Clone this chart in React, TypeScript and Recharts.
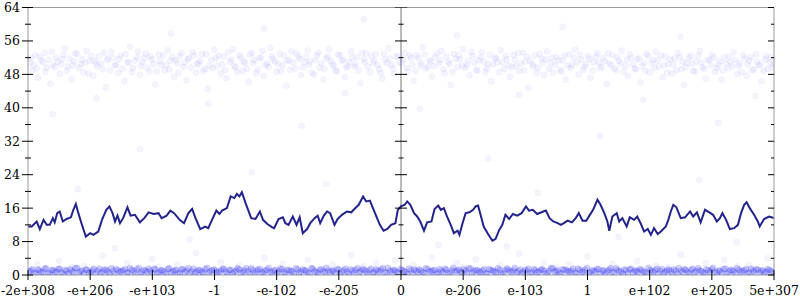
import React from "react";
import {
  ComposedChart,
  Line,
  Scatter,
  XAxis,
  YAxis,
  ReferenceLine,
} from "recharts";

const X_TICKS = [-6, -5, -4, -3, -2, -1, 0, 1, 2, 3, 4, 5, 6];
const X_LABELS = [
  "-2e+308", "-e+206", "-e+103", "-1", "-e-102", "-e-205", "0",
  "e-206", "e-103", "1", "e+102", "e+205", "5e+307",
];
const Y_TICKS = [0, 4, 8, 12, 16, 20, 24, 28, 32, 36, 40, 44, 48, 52, 56, 60, 64];

// running line [x, y]
const LINE_PTS = [
  [-6.0, 11.6], [-5.94, 11.6], [-5.86, 12.8], [-5.81, 11.0], [-5.75, 13.2], [-5.7, 12.0],
  [-5.65, 12.0], [-5.6, 13.6], [-5.57, 12.6], [-5.53, 14.8], [-5.49, 15.2], [-5.44, 12.8],
  [-5.38, 13.4], [-5.31, 13.8], [-5.27, 15.6], [-5.23, 17.0], [-5.19, 14.8], [-5.14, 12.4],
  [-5.07, 9.2], [-5.0, 10.0], [-4.95, 9.6], [-4.87, 10.4], [-4.81, 13.2], [-4.74, 15.6],
  [-4.69, 16.4], [-4.64, 14.8], [-4.6, 12.8], [-4.56, 14.2], [-4.52, 12.4], [-4.47, 13.6],
  [-4.4, 16.2], [-4.35, 14.2], [-4.28, 14.4], [-4.2, 12.6], [-4.13, 13.6], [-4.06, 15.0],
  [-3.98, 14.6], [-3.9, 14.8], [-3.85, 13.6], [-3.77, 14.2], [-3.71, 15.4], [-3.65, 14.8],
  [-3.56, 13.2], [-3.49, 12.4], [-3.42, 14.8], [-3.36, 15.8], [-3.31, 13.8], [-3.23, 11.0],
  [-3.15, 11.6], [-3.1, 11.2], [-3.04, 13.2], [-2.97, 15.4], [-2.92, 14.6], [-2.88, 15.4],
  [-2.8, 16.0], [-2.74, 18.8], [-2.68, 18.4], [-2.64, 19.4], [-2.6, 18.8], [-2.56, 19.8],
  [-2.5, 17.2], [-2.47, 16.0], [-2.41, 13.6], [-2.34, 13.4], [-2.27, 15.2], [-2.22, 13.2],
  [-2.15, 12.2], [-2.07, 11.4], [-2.04, 11.2], [-1.97, 13.4], [-1.9, 13.8], [-1.86, 12.4],
  [-1.81, 12.0], [-1.74, 14.0], [-1.68, 12.0], [-1.63, 13.8], [-1.58, 10.0], [-1.51, 11.0],
  [-1.46, 12.4], [-1.39, 13.6], [-1.34, 14.2], [-1.3, 12.4], [-1.24, 14.2], [-1.19, 15.2],
  [-1.14, 14.8], [-1.07, 12.0], [-1.02, 13.4], [-0.95, 14.4], [-0.87, 15.2], [-0.8, 15.0],
  [-0.75, 15.8], [-0.68, 16.8], [-0.61, 18.8], [-0.56, 17.6], [-0.5, 17.8], [-0.44, 15.6],
  [-0.38, 13.4], [-0.34, 12.0], [-0.28, 10.6], [-0.22, 11.0], [-0.16, 12.0], [-0.09, 12.4],
  [-0.05, 15.6], [0.0, 16.4], [0.06, 16.8], [0.1, 17.6], [0.15, 16.8], [0.21, 14.8],
  [0.26, 14.0], [0.31, 12.8], [0.37, 10.6], [0.42, 12.6], [0.49, 12.8], [0.54, 15.8],
  [0.6, 16.6], [0.64, 15.6], [0.69, 16.0], [0.74, 14.0], [0.8, 12.0], [0.85, 10.0],
  [0.91, 10.6], [0.94, 9.6], [0.99, 12.4], [1.04, 14.8], [1.1, 15.0], [1.16, 15.6],
  [1.2, 16.4], [1.24, 16.6], [1.28, 14.4], [1.33, 11.6], [1.4, 9.8], [1.47, 8.2],
  [1.52, 8.6], [1.58, 10.8], [1.63, 12.0], [1.68, 14.4], [1.74, 13.4], [1.8, 14.6],
  [1.87, 14.2], [1.94, 14.8], [2.01, 16.4], [2.06, 15.4], [2.12, 15.6], [2.19, 14.6],
  [2.26, 15.0], [2.33, 15.4], [2.39, 13.6], [2.45, 12.8], [2.52, 12.4], [2.57, 12.0],
  [2.62, 12.4], [2.68, 13.0], [2.75, 12.6], [2.81, 13.6], [2.86, 14.8], [2.92, 13.0],
  [2.98, 13.0], [3.03, 14.2], [3.09, 15.6], [3.16, 18.0], [3.21, 16.8], [3.27, 14.8],
  [3.32, 12.8], [3.35, 10.6], [3.4, 14.0], [3.47, 14.8], [3.51, 12.8], [3.56, 13.6],
  [3.63, 11.6], [3.68, 13.8], [3.75, 13.2], [3.8, 14.0], [3.86, 12.2], [3.91, 10.4],
  [3.97, 11.0], [4.02, 9.6], [4.07, 11.2], [4.13, 9.8], [4.18, 10.4], [4.26, 11.6],
  [4.3, 13.2], [4.34, 15.2], [4.38, 16.8], [4.43, 16.2], [4.5, 13.6], [4.57, 13.8],
  [4.65, 15.2], [4.7, 14.0], [4.76, 15.0], [4.82, 12.6], [4.89, 15.6], [4.96, 15.0],
  [5.02, 14.4], [5.08, 12.8], [5.13, 13.6], [5.17, 14.8], [5.23, 13.2], [5.29, 11.0],
  [5.36, 11.2], [5.42, 12.0], [5.47, 14.8], [5.52, 16.8], [5.56, 17.4], [5.61, 16.0],
  [5.68, 14.4], [5.74, 12.8], [5.77, 11.6], [5.84, 13.4], [5.92, 14.0], [6.0, 13.6],
];

// faint cloud near 50, wide spread
const UPPER_DOTS = [
  [-5.97, 50.8], [-5.93, 48.9], [-5.88, 52.6], [-5.84, 47.2], [-5.79, 51.4], [-5.73, 53.1], [-5.7, 49.6],
  [-5.64, 45.8], [-5.6, 50.2], [-5.55, 52.0], [-5.49, 48.1], [-5.45, 51.7], [-5.41, 54.2], [-5.36, 49.9],
  [-5.3, 46.9], [-5.26, 51.1], [-5.21, 52.9], [-5.15, 50.4], [-5.11, 48.5], [-5.06, 53.6], [-5.01, 51.3],
  [-4.95, 47.7], [-4.91, 50.6], [-4.86, 52.3], [-4.8, 49.2], [-4.75, 44.9], [-4.71, 51.8], [-4.66, 53.4],
  [-4.6, 50.1], [-4.55, 48.3], [-4.51, 52.5], [-4.45, 46.4], [-4.4, 51.0], [-4.36, 54.6], [-4.31, 49.5],
  [-4.25, 52.1], [-4.2, 47.9], [-4.16, 50.9], [-4.1, 53.0], [-4.05, 48.7], [-4.01, 51.6], [-3.95, 45.6],
  [-3.9, 52.7], [-3.86, 50.3], [-3.8, 49.0], [-3.75, 53.8], [-3.71, 51.2], [-3.65, 47.4], [-3.6, 50.7],
  [-3.56, 52.4], [-3.5, 49.8], [-3.45, 46.6], [-3.41, 51.9], [-3.35, 53.3], [-3.3, 48.4], [-3.26, 50.5],
  [-3.2, 52.8], [-3.15, 49.3], [-3.11, 44.5], [-3.05, 51.5], [-3.0, 53.9], [-2.96, 50.0], [-2.9, 48.2],
  [-2.85, 52.2], [-2.81, 47.1], [-2.75, 51.0], [-2.7, 54.0], [-2.66, 49.7], [-2.6, 52.6], [-2.55, 48.8],
  [-2.51, 50.8], [-2.45, 46.2], [-2.4, 53.2], [-2.36, 51.4], [-2.3, 49.1], [-2.25, 52.0], [-2.21, 47.6],
  [-2.15, 50.6], [-2.1, 54.4], [-2.06, 51.7], [-2.0, 48.6], [-1.95, 52.9], [-1.91, 50.2], [-1.85, 45.3],
  [-1.8, 51.3], [-1.76, 53.5], [-1.7, 49.4], [-1.65, 52.3], [-1.61, 47.8], [-1.55, 50.9], [-1.5, 53.7],
  [-1.46, 51.1], [-1.4, 48.0], [-1.35, 52.5], [-1.31, 49.6], [-1.25, 46.8], [-1.2, 51.8], [-1.16, 54.1],
  [-1.1, 50.4], [-1.05, 48.9], [-1.01, 52.7], [-0.95, 51.2], [-0.9, 47.3], [-0.86, 50.0], [-0.8, 53.4],
  [-0.75, 49.9], [-0.71, 52.1], [-0.65, 45.9], [-0.6, 51.6], [-0.56, 53.0], [-0.5, 48.5], [-0.45, 50.7],
  [-0.41, 52.8], [-0.35, 49.2], [-0.3, 47.0], [-0.26, 51.5], [-0.2, 54.3], [-0.15, 50.3], [-0.11, 48.1],
  [-0.05, 52.4], [0.02, 50.6], [0.06, 53.1], [0.11, 48.7], [0.16, 51.9], [0.2, 46.5], [0.25, 52.6],
  [0.31, 50.1], [0.35, 54.5], [0.4, 49.4], [0.46, 51.3], [0.5, 47.5], [0.55, 52.2], [0.61, 50.8],
  [0.65, 53.6], [0.7, 48.3], [0.76, 51.0], [0.8, 45.4], [0.85, 52.9], [0.91, 49.7], [0.95, 51.7],
  [1.0, 54.0], [1.06, 50.2], [1.1, 47.8], [1.15, 52.4], [1.21, 49.0], [1.25, 51.4], [1.3, 53.3],
  [1.36, 48.6], [1.4, 50.5], [1.45, 46.3], [1.51, 52.0], [1.55, 50.9], [1.6, 53.8], [1.66, 49.3],
  [1.7, 51.6], [1.75, 47.4], [1.81, 52.7], [1.85, 50.0], [1.9, 48.8], [1.96, 53.2], [2.0, 51.1],
  [2.05, 44.8], [2.11, 50.4], [2.15, 52.5], [2.2, 49.6], [2.26, 51.8], [2.3, 47.9], [2.35, 53.5],
  [2.41, 50.7], [2.45, 48.4], [2.5, 52.1], [2.56, 49.1], [2.6, 51.3], [2.65, 46.7], [2.71, 52.8],
  [2.75, 50.3], [2.8, 53.9], [2.86, 48.0], [2.9, 51.5], [2.95, 49.8], [3.01, 52.3], [3.05, 47.2],
  [3.1, 50.9], [3.16, 53.0], [3.2, 49.5], [3.25, 51.9], [3.31, 45.7], [3.35, 50.6], [3.4, 52.6],
  [3.46, 48.9], [3.5, 51.2], [3.55, 53.7], [3.61, 50.0], [3.65, 47.6], [3.7, 52.0], [3.76, 49.4],
  [3.8, 51.7], [3.85, 46.1], [3.91, 50.8], [3.95, 52.9], [4.0, 48.5], [4.06, 51.4], [4.1, 53.4],
  [4.15, 49.9], [4.21, 47.3], [4.25, 52.2], [4.3, 50.5], [4.36, 48.2], [4.4, 51.8], [4.45, 53.1],
  [4.51, 49.2], [4.55, 45.5], [4.6, 50.7], [4.66, 52.4], [4.7, 48.8], [4.75, 51.1], [4.81, 53.6],
  [4.85, 49.7], [4.9, 47.0], [4.96, 51.5], [5.0, 52.7], [5.05, 48.6], [5.11, 50.3], [5.15, 46.8],
  [5.2, 52.1], [5.26, 49.5], [5.3, 51.0], [5.35, 53.3], [5.41, 48.1], [5.45, 50.6], [5.5, 52.5],
  [5.56, 47.7], [5.6, 51.3], [5.65, 49.0], [5.71, 52.8], [5.75, 50.2], [5.8, 46.4], [5.86, 51.6],
  [5.9, 49.3], [5.95, 52.0], [5.99, 50.5],
];

// faint cloud near 50, dense core
const UPPER_CORE = [
  [-5.95, 51.9], [-5.9, 50.3], [-5.86, 49.4], [-5.81, 52.2], [-5.76, 50.9], [-5.72, 48.6], [-5.67, 51.5],
  [-5.62, 53.4], [-5.57, 49.8], [-5.52, 51.0], [-5.47, 50.4], [-5.43, 52.7], [-5.38, 48.8], [-5.33, 51.8],
  [-5.28, 50.1], [-5.24, 53.0], [-5.18, 49.5], [-5.13, 51.6], [-5.08, 50.7], [-5.03, 48.2], [-4.98, 52.4],
  [-4.93, 51.2], [-4.88, 49.9], [-4.83, 50.6], [-4.78, 53.2], [-4.73, 51.4], [-4.68, 48.9], [-4.63, 52.0],
  [-4.58, 50.3], [-4.53, 51.7], [-4.48, 49.3], [-4.43, 52.9], [-4.38, 50.8], [-4.33, 48.5], [-4.28, 51.3],
  [-4.23, 53.5], [-4.18, 50.0], [-4.13, 51.9], [-4.08, 49.6], [-4.03, 52.3], [-3.98, 50.5], [-3.93, 48.7],
  [-3.88, 51.1], [-3.83, 52.6], [-3.78, 50.2], [-3.73, 49.2], [-3.68, 52.1], [-3.63, 51.4], [-3.58, 48.4],
  [-3.53, 53.1], [-3.48, 50.9], [-3.43, 51.6], [-3.38, 49.7], [-3.33, 52.5], [-3.28, 50.6], [-3.23, 51.2],
  [-3.18, 48.9], [-3.13, 52.8], [-3.08, 50.1], [-3.03, 49.5], [-2.98, 51.8], [-2.93, 52.4], [-2.88, 50.4],
  [-2.83, 49.0], [-2.78, 53.3], [-2.73, 51.5], [-2.68, 50.0], [-2.63, 48.6], [-2.58, 52.0], [-2.53, 51.1],
  [-2.48, 49.4], [-2.43, 52.7], [-2.38, 50.7], [-2.33, 48.3], [-2.28, 51.9], [-2.23, 53.6], [-2.18, 50.2],
  [-2.13, 49.8], [-2.08, 52.2], [-2.03, 51.0], [-1.98, 50.5], [-1.93, 48.8], [-1.88, 52.5], [-1.83, 51.3],
  [-1.78, 49.1], [-1.73, 50.8], [-1.68, 53.0], [-1.63, 51.7], [-1.58, 49.7], [-1.53, 52.1], [-1.48, 50.3],
  [-1.43, 48.5], [-1.38, 51.4], [-1.33, 53.2], [-1.28, 50.6], [-1.23, 49.3], [-1.18, 52.3], [-1.13, 51.2],
  [-1.08, 50.0], [-1.03, 48.7], [-0.98, 52.6], [-0.93, 51.5], [-0.88, 49.6], [-0.83, 50.9], [-0.78, 52.0],
  [-0.73, 50.4], [-0.68, 48.9], [-0.63, 53.1], [-0.58, 51.0], [-0.53, 49.9], [-0.48, 52.4], [-0.43, 51.3],
  [-0.38, 50.2], [-0.33, 48.4], [-0.28, 52.9], [-0.23, 50.7], [-0.18, 51.8], [-0.13, 49.4], [-0.08, 52.2],
  [-0.03, 50.8], [0.04, 51.6], [0.09, 49.5], [0.14, 52.5], [0.18, 50.3], [0.23, 48.8], [0.28, 51.9],
  [0.33, 50.6], [0.38, 52.8], [0.43, 49.8], [0.48, 51.1], [0.53, 50.0], [0.58, 53.0], [0.63, 51.4],
  [0.68, 49.2], [0.73, 52.3], [0.78, 50.5], [0.83, 48.6], [0.88, 51.7], [0.93, 52.6], [0.98, 50.2],
  [1.03, 49.6], [1.08, 51.3], [1.13, 53.4], [1.18, 50.8], [1.23, 48.9], [1.28, 52.1], [1.33, 51.0],
  [1.38, 49.4], [1.43, 52.7], [1.48, 50.4], [1.53, 51.8], [1.58, 48.5], [1.63, 50.9], [1.68, 52.4],
  [1.73, 50.1], [1.78, 49.7], [1.83, 51.5], [1.88, 53.1], [1.93, 50.6], [1.98, 49.0], [2.03, 52.2],
  [2.08, 51.2], [2.13, 49.9], [2.18, 48.4], [2.23, 52.9], [2.28, 50.7], [2.33, 51.6], [2.38, 49.3],
  [2.43, 52.0], [2.48, 50.3], [2.53, 51.4], [2.58, 48.7], [2.63, 52.5], [2.68, 50.0], [2.73, 49.5],
  [2.78, 51.9], [2.83, 50.8], [2.88, 52.7], [2.93, 49.1], [2.98, 50.5], [3.03, 51.7], [3.08, 48.9],
  [3.13, 52.3], [3.18, 50.9], [3.23, 49.8], [3.28, 51.2], [3.33, 53.0], [3.38, 50.2], [3.43, 49.4],
  [3.48, 52.1], [3.53, 50.6], [3.58, 48.6], [3.63, 51.5], [3.68, 52.8], [3.73, 50.4], [3.78, 49.2],
  [3.83, 51.8], [3.88, 50.0], [3.93, 48.8], [3.98, 52.4], [4.03, 50.7], [4.08, 49.6], [4.13, 51.3],
  [4.18, 52.6], [4.23, 50.1], [4.28, 48.4], [4.33, 51.6], [4.38, 50.3], [4.43, 49.0], [4.48, 52.2],
  [4.53, 51.0], [4.58, 49.7], [4.63, 51.9], [4.68, 50.5], [4.73, 48.7], [4.78, 52.5], [4.83, 50.8],
  [4.88, 49.3], [4.93, 51.4], [4.98, 50.2], [5.03, 52.0], [5.08, 49.5], [5.13, 51.1], [5.18, 48.9],
  [5.23, 50.6], [5.28, 52.3], [5.33, 49.9], [5.38, 51.5], [5.43, 50.0], [5.48, 48.5], [5.53, 51.8],
  [5.58, 50.4], [5.63, 52.1], [5.68, 49.2], [5.73, 51.0], [5.78, 50.3], [5.83, 48.8], [5.88, 52.4],
  [5.93, 50.7], [5.98, 49.6],
];

// scattered strays
const STRAY_DOTS = [
  [-5.6, 38.5], [-4.9, 42.3], [-4.2, 30.1], [-3.7, 57.8], [-3.1, 41.0], [-2.4, 24.6], [-2.2, 58.9],
  [-1.6, 35.7], [-0.9, 43.5], [-0.6, 61.2], [0.3, 39.8], [0.9, 57.3], [1.4, 27.9], [1.9, 43.1],
  [2.6, 59.4], [3.2, 33.2], [3.9, 41.9], [4.5, 57.0], [5.1, 36.4], [5.7, 42.8], [-5.2, 20.5],
  [-1.2, 21.8], [2.2, 19.6], [4.8, 22.7], [-3.4, 8.5], [0.6, 7.2], [3.5, 9.1], [-4.6, 6.4],
  [1.7, 6.8], [5.4, 7.9],
  [-5.85, 2.6], [-5.5, 3.4], [-5.1, 2.2], [-4.8, 4.6], [-4.4, 2.9], [-4.0, 3.8], [-3.6, 2.4],
  [-3.3, 5.3], [-2.9, 3.1], [-2.6, 2.3], [-2.2, 4.1], [-1.9, 2.7], [-1.5, 3.6], [-1.1, 2.5],
  [-0.8, 4.8], [-0.4, 2.8], [-0.1, 3.5], [0.2, 2.4], [0.5, 4.2], [0.9, 2.9], [1.2, 3.7],
  [1.6, 2.3], [1.9, 5.1], [2.3, 3.0], [2.7, 2.5], [3.0, 4.4], [3.4, 2.7], [3.8, 3.3],
  [4.1, 2.2], [4.5, 4.9], [4.9, 2.8], [5.2, 3.6], [5.6, 2.4], [5.9, 4.0], [-5.3, 1.9],
  [-3.9, 2.0], [-2.4, 1.9], [-0.6, 2.1], [1.0, 1.9], [2.5, 2.0], [4.3, 1.9], [5.4, 2.1],
];

// dense strip at the floor
const BOTTOM_DOTS = [
  [-5.98, 0.9], [-5.93, 1.4], [-5.87, 0.4], [-5.82, 1.1], [-5.76, 0.7], [-5.71, 1.6], [-5.65, 0.5],
  [-5.6, 1.2], [-5.54, 0.8], [-5.49, 1.5], [-5.43, 0.3], [-5.38, 1.0], [-5.32, 1.3], [-5.27, 0.6],
  [-5.21, 1.7], [-5.16, 0.9], [-5.1, 0.4], [-5.05, 1.2], [-4.99, 0.7], [-4.94, 1.5], [-4.88, 1.0],
  [-4.83, 0.5], [-4.77, 1.3], [-4.72, 0.8], [-4.66, 1.6], [-4.61, 0.3], [-4.55, 1.1], [-4.5, 0.9],
  [-4.44, 1.4], [-4.39, 0.6], [-4.33, 1.2], [-4.28, 0.4], [-4.22, 1.7], [-4.17, 0.8], [-4.11, 1.0],
  [-4.06, 1.5], [-4.0, 0.5], [-3.95, 1.3], [-3.89, 0.7], [-3.84, 1.1], [-3.78, 0.3], [-3.73, 1.6],
  [-3.67, 0.9], [-3.62, 1.2], [-3.56, 0.6], [-3.51, 1.4], [-3.45, 1.0], [-3.4, 0.4], [-3.34, 1.5],
  [-3.29, 0.8], [-3.23, 1.1], [-3.18, 0.5], [-3.12, 1.7], [-3.07, 0.9], [-3.01, 1.3], [-2.96, 0.6],
  [-2.9, 1.0], [-2.85, 1.4], [-2.79, 0.3], [-2.74, 1.2], [-2.68, 0.8], [-2.63, 1.6], [-2.57, 0.5],
  [-2.52, 1.1], [-2.46, 0.9], [-2.41, 1.5], [-2.35, 0.4], [-2.3, 1.3], [-2.24, 0.7], [-2.19, 1.0],
  [-2.13, 1.7], [-2.08, 0.6], [-2.02, 1.2], [-1.97, 0.9], [-1.91, 1.4], [-1.86, 0.3], [-1.8, 1.1],
  [-1.75, 0.8], [-1.69, 1.6], [-1.64, 0.5], [-1.58, 1.3], [-1.53, 1.0], [-1.47, 0.4], [-1.42, 1.5],
  [-1.36, 0.7], [-1.31, 1.2], [-1.25, 0.9], [-1.2, 1.7], [-1.14, 0.6], [-1.09, 1.0], [-1.03, 1.4],
  [-0.98, 0.3], [-0.92, 1.1], [-0.87, 0.8], [-0.81, 1.3], [-0.76, 0.5], [-0.7, 1.6], [-0.65, 0.9],
  [-0.59, 1.2], [-0.54, 0.4], [-0.48, 1.5], [-0.43, 0.7], [-0.37, 1.0], [-0.32, 1.3], [-0.26, 0.6],
  [-0.21, 1.7], [-0.15, 0.8], [-0.1, 1.1], [-0.04, 0.5], [0.02, 1.2], [0.07, 0.8], [0.13, 1.5],
  [0.18, 0.4], [0.24, 1.0], [0.29, 1.3], [0.35, 0.6], [0.4, 1.6], [0.46, 0.9], [0.51, 1.1],
  [0.57, 0.3], [0.62, 1.4], [0.68, 0.7], [0.73, 1.2], [0.79, 0.5], [0.84, 1.7], [0.9, 1.0],
  [0.95, 0.8], [1.01, 1.3], [1.06, 0.4], [1.12, 1.5], [1.17, 0.9], [1.23, 1.1], [1.28, 0.6],
  [1.34, 1.4], [1.39, 0.3], [1.45, 1.2], [1.5, 0.8], [1.56, 1.6], [1.61, 0.5], [1.67, 1.0],
  [1.72, 1.3], [1.78, 0.7], [1.83, 1.7], [1.89, 0.9], [1.94, 0.4], [2.0, 1.2], [2.05, 1.5],
  [2.11, 0.6], [2.16, 1.1], [2.22, 0.8], [2.27, 1.4], [2.33, 0.3], [2.38, 1.0], [2.44, 1.6],
  [2.49, 0.9], [2.55, 0.5], [2.6, 1.3], [2.66, 1.1], [2.71, 0.7], [2.77, 1.5], [2.82, 0.4],
  [2.88, 1.2], [2.93, 0.8], [2.99, 1.7], [3.04, 0.6], [3.1, 1.0], [3.15, 1.4], [3.21, 0.3],
  [3.26, 1.1], [3.32, 0.9], [3.37, 1.6], [3.43, 0.5], [3.48, 1.2], [3.54, 0.8], [3.59, 1.3],
  [3.65, 0.4], [3.7, 1.5], [3.76, 1.0], [3.81, 0.7], [3.87, 1.2], [3.92, 0.6], [3.98, 1.7],
  [4.03, 0.9], [4.09, 1.1], [4.14, 0.3], [4.2, 1.4], [4.25, 0.8], [4.31, 1.3], [4.36, 0.5],
  [4.42, 1.0], [4.47, 1.6], [4.53, 0.7], [4.58, 1.2], [4.64, 0.4], [4.69, 1.5], [4.75, 0.9],
  [4.8, 1.1], [4.86, 0.6], [4.91, 1.3], [4.97, 0.8], [5.02, 1.7], [5.08, 0.5], [5.13, 1.0],
  [5.19, 1.4], [5.24, 0.3], [5.3, 1.2], [5.35, 0.9], [5.41, 1.6], [5.46, 0.7], [5.52, 1.1],
  [5.57, 0.4], [5.63, 1.5], [5.68, 0.8], [5.74, 1.3], [5.79, 1.0], [5.85, 0.6], [5.9, 1.4],
  [5.96, 0.9],
];

// second pass of the floor strip, between the first
const BOTTOM_CORE = [
  [-5.95, 1.0], [-5.9, 0.5], [-5.84, 1.3], [-5.79, 0.7], [-5.73, 1.5], [-5.68, 0.3], [-5.62, 1.1],
  [-5.57, 0.8], [-5.51, 1.4], [-5.46, 0.6], [-5.4, 1.2], [-5.35, 0.4], [-5.29, 0.9], [-5.24, 1.6],
  [-5.18, 0.5], [-5.13, 1.0], [-5.07, 1.3], [-5.02, 0.6], [-4.96, 1.1], [-4.91, 0.3], [-4.85, 1.5],
  [-4.8, 0.8], [-4.74, 1.2], [-4.69, 0.4], [-4.63, 1.0], [-4.58, 1.4], [-4.52, 0.7], [-4.47, 1.1],
  [-4.41, 0.5], [-4.36, 1.6], [-4.3, 0.9], [-4.25, 1.3], [-4.19, 0.3], [-4.14, 1.2], [-4.08, 0.7],
  [-4.03, 1.0], [-3.97, 1.5], [-3.92, 0.4], [-3.86, 1.1], [-3.81, 0.8], [-3.75, 1.4], [-3.7, 0.6],
  [-3.64, 1.0], [-3.59, 0.3], [-3.53, 1.3], [-3.48, 0.7], [-3.42, 1.6], [-3.37, 0.9], [-3.31, 0.5],
  [-3.26, 1.2], [-3.2, 0.8], [-3.15, 1.4], [-3.09, 0.4], [-3.04, 1.1], [-2.98, 1.0], [-2.93, 0.6],
  [-2.87, 1.5], [-2.82, 0.8], [-2.76, 1.2], [-2.71, 0.4], [-2.65, 1.0], [-2.6, 1.3], [-2.54, 0.7],
  [-2.49, 1.6], [-2.43, 0.3], [-2.38, 1.1], [-2.32, 0.9], [-2.27, 1.4], [-2.21, 0.5], [-2.16, 1.2],
  [-2.1, 0.8], [-2.05, 1.0], [-1.99, 0.4], [-1.94, 1.5], [-1.88, 0.7], [-1.83, 1.2], [-1.77, 1.0],
  [-1.72, 0.3], [-1.66, 1.3], [-1.61, 0.8], [-1.55, 1.1], [-1.5, 0.6], [-1.44, 1.6], [-1.39, 0.9],
  [-1.33, 0.4], [-1.28, 1.4], [-1.22, 0.7], [-1.17, 1.1], [-1.11, 1.0], [-1.06, 0.5], [-1.0, 1.3],
  [-0.95, 0.8], [-0.89, 1.5], [-0.84, 0.3], [-0.78, 1.0], [-0.73, 1.2], [-0.67, 0.6], [-0.62, 1.4],
  [-0.56, 0.9], [-0.51, 1.1], [-0.45, 0.4], [-0.4, 1.3], [-0.34, 0.8], [-0.29, 1.6], [-0.23, 0.5],
  [-0.18, 1.0], [-0.12, 1.2], [-0.07, 0.7], [-0.01, 1.4], [0.05, 0.9], [0.1, 0.3], [0.16, 1.1],
  [0.21, 1.3], [0.27, 0.7], [0.32, 1.0], [0.38, 0.5], [0.43, 1.4], [0.49, 0.8], [0.54, 1.2],
  [0.6, 0.6], [0.65, 1.0], [0.71, 1.5], [0.76, 0.4], [0.82, 1.1], [0.87, 0.9], [0.93, 1.3],
  [0.98, 0.6], [1.04, 1.0], [1.09, 1.6], [1.15, 0.5], [1.2, 1.2], [1.26, 0.8], [1.31, 1.1],
  [1.37, 0.4], [1.42, 1.4], [1.48, 1.0], [1.53, 0.7], [1.59, 1.2], [1.64, 0.3], [1.7, 1.5],
  [1.75, 0.9], [1.81, 1.1], [1.86, 0.6], [1.92, 1.3], [1.97, 0.8], [2.03, 1.0], [2.08, 0.4],
  [2.14, 1.4], [2.19, 0.7], [2.25, 1.2], [2.3, 1.0], [2.36, 0.5], [2.41, 1.6], [2.47, 0.8],
  [2.52, 1.1], [2.58, 0.3], [2.63, 1.3], [2.69, 0.9], [2.74, 1.0], [2.8, 0.6], [2.85, 1.5],
  [2.91, 0.7], [2.96, 1.2], [3.02, 0.4], [3.07, 1.1], [3.13, 0.8], [3.18, 1.4], [3.24, 1.0],
  [3.29, 0.5], [3.35, 1.2], [3.4, 0.7], [3.46, 1.6], [3.51, 0.9], [3.57, 0.3], [3.62, 1.1],
  [3.68, 1.3], [3.73, 0.6], [3.79, 1.0], [3.84, 1.4], [3.9, 0.8], [3.95, 0.4], [4.01, 1.2],
  [4.06, 0.7], [4.12, 1.5], [4.17, 1.0], [4.23, 0.5], [4.28, 1.1], [4.34, 0.9], [4.39, 1.3],
  [4.45, 0.3], [4.5, 1.0], [4.56, 1.4], [4.61, 0.8], [4.67, 1.2], [4.72, 0.6], [4.78, 1.6],
  [4.83, 0.9], [4.89, 0.4], [4.94, 1.1], [5.0, 1.3], [5.05, 0.7], [5.11, 1.0], [5.16, 0.5],
  [5.22, 1.5], [5.27, 0.8], [5.33, 1.1], [5.38, 0.4], [5.44, 1.2], [5.49, 0.9], [5.55, 1.4],
  [5.6, 0.6], [5.66, 1.0], [5.71, 1.3], [5.77, 0.5], [5.82, 1.1], [5.88, 0.8], [5.93, 1.2],
  [5.99, 0.6],
];

const toRows = (pts: number[][]) => pts.map(([x, y]) => ({ x, y }));

const FONT = "'DejaVu Serif', serif";
const AXIS_GRAY = "#9a9a9a";
const DOT_BLUE = "#3c3cf5";

const XTick = (props: any) => {
  const { x, y, payload } = props;
  const label = X_LABELS[X_TICKS.indexOf(payload.value)];
  return (
    <g>
      <line x1={x} x2={x} y1={y - 5} y2={y + 5} stroke="#000" />
      <text x={x} y={y + 19.5} textAnchor="middle" style={{ fontFamily: FONT, fontSize: 12.5 }} fill="#000">
        {label}
      </text>
    </g>
  );
};

const LeftTick = (props: any) => {
  const { x, y, payload } = props;
  const major = payload.value % 8 === 0;
  return (
    <g>
      <line x1={major ? x - 6 : x - 3} x2={major ? x + 5 : x + 3} y1={y} y2={y} stroke="#000" />
      {major && (
        <text x={x - 8} y={y + 4.5} textAnchor="end" style={{ fontFamily: FONT, fontSize: 12.5 }} fill="#000">
          {payload.value}
        </text>
      )}
    </g>
  );
};

const RightTick = (props: any) => {
  const { x, y, payload } = props;
  const major = payload.value % 8 === 0;
  return <line x1={major ? x - 6 : x - 3} x2={x} y1={y} y2={y} stroke="#000" />;
};

const dot = (opacity: number) => (p: any) => (
  <circle
    cx={p.cx}
    cy={p.cy}
    r={3}
    fill={DOT_BLUE}
    fillOpacity={opacity}
    stroke={DOT_BLUE}
    strokeOpacity={opacity}
    strokeWidth={0.8}
  />
);

const centerTick = (p: any) => {
  const major = p.payload.y % 8 === 0;
  const d = major ? 6 : 2.5;
  return <line x1={p.cx - d} x2={p.cx + d} y1={p.cy} y2={p.cy} stroke="#000" />;
};

export default function App() {
  const centerTicks = Y_TICKS.map((y) => ({ x: 0, y }));
  return (
    <div style={{ position: "absolute", left: 0, top: 0, width: 800, height: 300, background: "#fff" }}>
      <ComposedChart width={800} height={300} margin={{ top: 7.5, right: 0, bottom: 0, left: 0 }}>
        <XAxis
          type="number"
          dataKey="x"
          domain={[-6, 6]}
          ticks={X_TICKS}
          interval={0}
          allowDataOverflow
          height={25}
          tickSize={0}
          tickMargin={0}
          tickLine={false}
          axisLine={{ stroke: AXIS_GRAY }}
          tick={<XTick />}
        />
        <YAxis
          yAxisId="left"
          type="number"
          dataKey="y"
          domain={[0, 64]}
          ticks={Y_TICKS}
          interval={0}
          allowDataOverflow
          width={28}
          tickSize={0}
          tickMargin={0}
          tickLine={false}
          axisLine={{ stroke: AXIS_GRAY }}
          tick={<LeftTick />}
        />
        <YAxis
          yAxisId="right"
          orientation="right"
          type="number"
          dataKey="y"
          domain={[0, 64]}
          ticks={Y_TICKS}
          interval={0}
          allowDataOverflow
          width={26}
          tickSize={0}
          tickMargin={0}
          tickLine={false}
          axisLine={{ stroke: AXIS_GRAY }}
          tick={<RightTick />}
        />
        <ReferenceLine yAxisId="left" y={64} stroke={AXIS_GRAY} />
        <ReferenceLine yAxisId="left" x={0} stroke="#777" />
        <Scatter yAxisId="left" data={toRows(UPPER_DOTS)} dataKey="y" shape={dot(0.06)} isAnimationActive={false} />
        <Scatter yAxisId="left" data={toRows(UPPER_CORE)} dataKey="y" shape={dot(0.06)} isAnimationActive={false} />
        <Scatter yAxisId="left" data={toRows(STRAY_DOTS)} dataKey="y" shape={dot(0.06)} isAnimationActive={false} />
        <Scatter yAxisId="right" data={toRows(BOTTOM_DOTS)} dataKey="y" shape={dot(0.22)} isAnimationActive={false} />
        <Scatter yAxisId="right" data={toRows(BOTTOM_CORE)} dataKey="y" shape={dot(0.22)} isAnimationActive={false} />
        <Scatter yAxisId="left" data={centerTicks} dataKey="y" shape={centerTick} isAnimationActive={false} />
        <Line
          yAxisId="left"
          data={toRows(LINE_PTS)}
          dataKey="y"
          type="linear"
          stroke="#23238c"
          strokeWidth={2}
          dot={false}
          isAnimationActive={false}
        />
      </ComposedChart>
    </div>
  );
}
